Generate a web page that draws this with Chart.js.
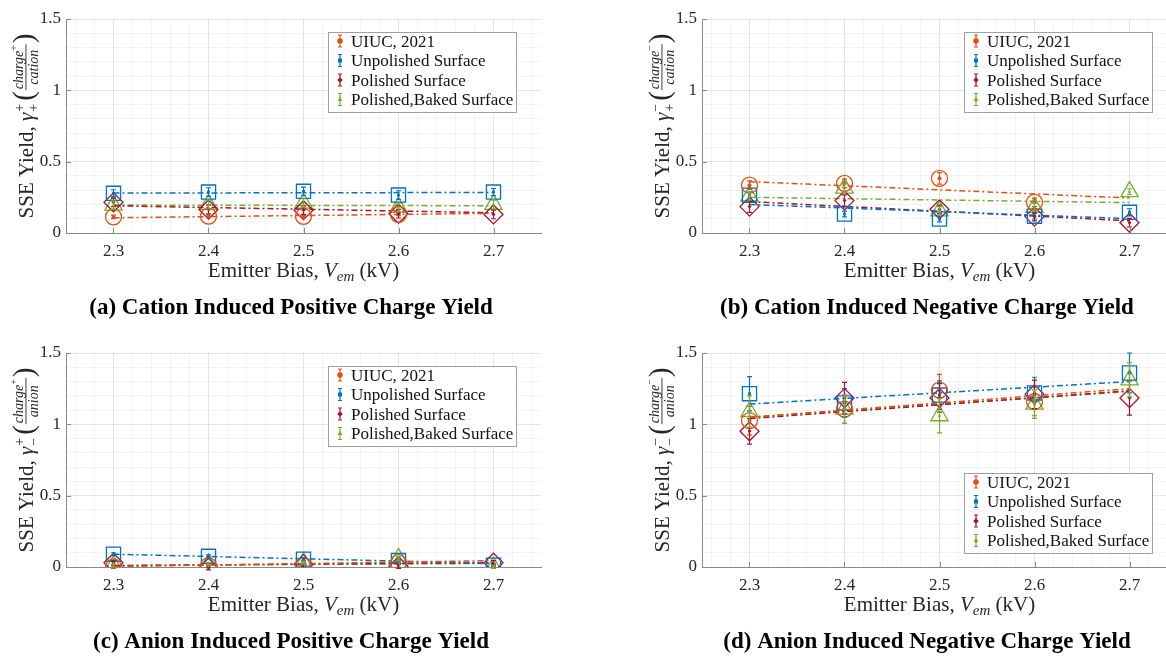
<!DOCTYPE html>
<html>
<head>
<meta charset="utf-8">
<title>SSE Yield vs Emitter Bias</title>
<script src="https://cdn.jsdelivr.net/npm/chart.js"></script>
<style>
  body { margin: 0; width: 1166px; height: 658px; overflow: hidden; background: #fff; position: relative; }
  canvas { position: absolute; }
</style>
</head>
<body>
<canvas id="panelA" width="583" height="330" style="left:0;top:0"></canvas>
<canvas id="panelB" width="583" height="330" style="left:636px;top:0"></canvas>
<canvas id="panelC" width="583" height="330" style="left:0;top:334px"></canvas>
<canvas id="panelD" width="583" height="330" style="left:636px;top:334px"></canvas>
<script>
// ---- data (UIUC has no 2.7 kV point) ----
const biasKV = [2.3, 2.4, 2.5, 2.6, 2.7];
const xTickLabels = [2.3, 2.4, 2.5, 2.6, 2.7];
const yTickLabels = [0, 0.5, 1, 1.5];
const seriesNames = ['UIUC, 2021', 'Unpolished Surface', 'Polished Surface', 'Polished,Baked Surface'];

// (a) cation induced positive charge yield
const catPosYield = [
  [0.113, 0.118, 0.117, 0.131, null],
  [0.278, 0.287, 0.292, 0.266, 0.287],
  [0.215, 0.165, 0.160, 0.135, 0.130],
  [0.195, 0.200, 0.210, 0.180, 0.200]
];
const catPosErr = [
  [0.012, 0.010, 0.012, 0.010, 0],
  [0.025, 0.030, 0.030, 0.030, 0.025],
  [0.030, 0.030, 0.030, 0.030, 0.030],
  [0.030, 0.030, 0.030, 0.030, 0.030]
];
const catPosFit = [[0.107, 0.138], [0.280, 0.284], [0.191, 0.142], [0.196, 0.191]];

// (b) cation induced negative charge yield
const catNegYield = [
  [0.335, 0.348, 0.383, 0.215, null],
  [0.265, 0.133, 0.098, 0.118, 0.145],
  [0.185, 0.227, 0.166, 0.115, 0.072],
  [0.260, 0.315, 0.155, 0.180, 0.290]
];
const catNegErr = [
  [0.030, 0.030, 0.040, 0.030, 0],
  [0.025, 0.020, 0.020, 0.020, 0.025],
  [0.040, 0.040, 0.030, 0.030, 0.030],
  [0.030, 0.030, 0.030, 0.030, 0.020]
];
const catNegFit = [[0.360, 0.245], [0.200, 0.100], [0.220, 0.085], [0.250, 0.213]];

// (c) anion induced positive charge yield
const anPosYield = [
  [0.000, 0.010, 0.010, 0.030, null],
  [0.090, 0.075, 0.055, 0.045, 0.012],
  [0.030, -0.005, 0.020, 0.005, 0.030],
  [0.010, 0.020, 0.030, 0.060, 0.000]
];
const anPosErr = [
  [0.010, 0.010, 0.010, 0.010, 0],
  [0.010, 0.010, 0.010, 0.010, 0.010],
  [0.015, 0.015, 0.015, 0.015, 0.015],
  [0.010, 0.010, 0.010, 0.015, 0.010]
];
const anPosFit = [[0.003, 0.045], [0.090, 0.025], [0.010, 0.030], [0.010, 0.025]];

// (d) anion induced negative charge yield
const anNegYield = [
  [1.026, 1.107, 1.240, 1.160, null],
  [1.215, 1.150, 1.205, 1.220, 1.360],
  [0.951, 1.184, 1.185, 1.210, 1.184],
  [1.090, 1.107, 1.060, 1.142, 1.312]
];
const anNegErr = [
  [0.10, 0.10, 0.11, 0.10, 0],
  [0.12, 0.10, 0.10, 0.11, 0.14],
  [0.09, 0.11, 0.10, 0.10, 0.12],
  [0.11, 0.10, 0.12, 0.10, 0.12]
];
const anNegFit = [[1.050, 1.250], [1.142, 1.300], [1.040, 1.235], [1.050, 1.230]];

// ---- styling ----
const FONT = '"Liberation Serif", "Times New Roman", serif';
const seriesColors = ['#D95319', '#0072BD', '#A2142F', '#77AC30'];
const seriesMarkers = ['circle', 'rect', 'rectRot', 'triangle'];
const markerRadius = { circle: 8, rect: 10, rectRot: 9.5, triangle: 10 };
const AXIS = '#8a8a8a';
const TXT = '#262626';

const isMajorX = v => Math.abs(v * 10 - Math.round(v * 10)) < 1e-6;
const isMajorY = v => Math.abs(v * 2 - Math.round(v * 2)) < 1e-6;
const xGrid = [];
for (let k = 113; k <= 137; k++) xGrid.push(+(k * 0.02).toFixed(2));
const yGrid = [];
for (let k = 0; k <= 15; k++) yGrid.push(k / 10);

function drawMarker(ctx, style, x, y, r) {
  ctx.beginPath();
  if (style === 'circle') {
    ctx.arc(x, y, r, 0, Math.PI * 2);
  } else if (style === 'rect') {
    const h = r * Math.SQRT1_2;
    ctx.rect(x - h, y - h, 2 * h, 2 * h);
  } else if (style === 'rectRot') {
    ctx.moveTo(x, y - r); ctx.lineTo(x + r, y); ctx.lineTo(x, y + r); ctx.lineTo(x - r, y);
    ctx.closePath();
  } else {
    ctx.moveTo(x, y - r);
    ctx.lineTo(x + r * Math.sin(Math.PI * 2 / 3), y - r * Math.cos(Math.PI * 2 / 3));
    ctx.lineTo(x + r * Math.sin(Math.PI * 4 / 3), y - r * Math.cos(Math.PI * 4 / 3));
    ctx.closePath();
  }
  ctx.fill();
}

// error bars with a small center marker, in data units
const errorBars = {
  id: 'errorBars',
  afterDatasetsDraw(chart) {
    const ctx = chart.ctx, ys = chart.scales.y;
    chart.data.datasets.forEach((ds, i) => {
      if (!ds.errors) return;
      const meta = chart.getDatasetMeta(i);
      ctx.save();
      ctx.strokeStyle = ds.borderColor;
      ctx.fillStyle = ds.borderColor;
      ctx.lineWidth = 1.2;
      meta.data.forEach((pt, j) => {
        const v = ds.data[j].y, e = ds.errors[j];
        if (v === null || pt.skip) return;
        const top = ys.getPixelForValue(v + e), bot = ys.getPixelForValue(v - e);
        ctx.beginPath();
        ctx.moveTo(pt.x, top); ctx.lineTo(pt.x, bot);
        ctx.moveTo(pt.x - 2.5, top); ctx.lineTo(pt.x + 2.5, top);
        ctx.moveTo(pt.x - 2.5, bot); ctx.lineTo(pt.x + 2.5, bot);
        ctx.stroke();
        drawMarker(ctx, ds.pointStyle, pt.x, pt.y, 2);
      });
      ctx.restore();
    });
  }
};

function putText(ctx, font, s, x, y) {
  ctx.font = font;
  ctx.fillText(s, x, y);
  return ctx.measureText(s).width;
}

function drawXTitle(ctx, cx, base) {
  const R = `21px ${FONT}`, I = `italic 21px ${FONT}`, S = `italic 15px ${FONT}`;
  const parts = [[R, 'Emitter Bias, ', 0], [I, 'V', 0], [S, 'em', 4], [R, ' (kV)', 0]];
  let total = 0;
  parts.forEach(p => { ctx.font = p[0]; total += ctx.measureText(p[1]).width; });
  let x = cx - total / 2;
  parts.forEach(p => { x += putText(ctx, p[0], p[1], x, base + p[2]); });
}

function drawYTitle(ctx, cx, cy, t) {
  const R = `21px ${FONT}`, I = `italic 21px ${FONT}`, S = `14px ${FONT}`;
  const SI = `italic 14px ${FONT}`, T = `10px ${FONT}`, P = `29px ${FONT}`;
  ctx.save();
  ctx.translate(cx, cy);
  ctx.rotate(-Math.PI / 2);
  const w = (f, s) => { ctx.font = f; return ctx.measureText(s).width; };
  const wLead = w(R, 'SSE Yield, '), wG = w(I, 'γ');
  const wSc = Math.max(w(S, t.sup), w(S, t.sub));
  const wP = w(P, '(');
  const wChg = w(SI, 'charge');
  const wNum = wChg + w(T, t.numSup);
  const wDen = w(SI, t.den);
  const wFr = Math.max(wNum, wDen) + 4;
  const total = wLead + wG + 1 + wSc + 3 + wP + wFr + wP;
  let x = -total / 2;
  x += putText(ctx, R, 'SSE Yield, ', x, 0);
  x += putText(ctx, I, 'γ', x, 0) + 1;
  putText(ctx, S, t.sup, x, -9);
  putText(ctx, S, t.sub, x, 5);
  x += wSc + 3;
  x += putText(ctx, P, '(', x, 0);
  const fc = x + wFr / 2;
  const ns = fc - wNum / 2;
  putText(ctx, SI, 'charge', ns, -10);
  putText(ctx, T, t.numSup, ns + wChg, -16);
  ctx.fillRect(x + 1, -7.5, wFr - 2, 0.9);
  putText(ctx, SI, t.den, fc - wDen / 2, 5);
  x += wFr;
  putText(ctx, P, ')', x, 0);
  ctx.restore();
}

function drawLegend(ctx, a, where) {
  const w = 188, h = 80;
  const left = a.right - 25 - w;
  const top = where === 'bottom' ? a.bottom - 14 - h : a.top + 13;
  ctx.fillStyle = '#fff';
  ctx.fillRect(left, top, w, h);
  ctx.strokeStyle = '#a0a0a0';
  ctx.lineWidth = 1;
  ctx.strokeRect(Math.round(left) + 0.5, Math.round(top) + 0.5, w, h);
  seriesNames.forEach((name, i) => {
    const base = top + 14.5 + i * 19.5;
    const ix = left + 12, iy = base - 5.5;
    ctx.strokeStyle = seriesColors[i];
    ctx.fillStyle = seriesColors[i];
    ctx.lineWidth = 1.2;
    ctx.beginPath();
    ctx.moveTo(ix, iy - 6); ctx.lineTo(ix, iy + 6);
    ctx.moveTo(ix - 2, iy - 6); ctx.lineTo(ix + 2, iy - 6);
    ctx.moveTo(ix - 2, iy + 6); ctx.lineTo(ix + 2, iy + 6);
    ctx.stroke();
    drawMarker(ctx, seriesMarkers[i], ix, iy, 2.8);
    ctx.fillStyle = '#111';
    putText(ctx, `17px ${FONT}`, name, left + 23, base);
  });
}

const panelDecor = {
  id: 'panelDecor',
  afterDraw(chart, args, opts) {
    const ctx = chart.ctx, a = chart.chartArea;
    const xs = chart.scales.x, ys = chart.scales.y;
    ctx.save();
    // inward tick marks
    ctx.strokeStyle = AXIS;
    ctx.lineWidth = 1;
    ctx.beginPath();
    xTickLabels.forEach(v => {
      const px = Math.round(xs.getPixelForValue(v)) + 0.5;
      ctx.moveTo(px, a.bottom); ctx.lineTo(px, a.bottom - 5);
    });
    yTickLabels.forEach(v => {
      const py = Math.round(ys.getPixelForValue(v)) + 0.5;
      ctx.moveTo(a.left, py); ctx.lineTo(a.left + 5, py);
    });
    ctx.stroke();

    ctx.fillStyle = TXT;
    ctx.textBaseline = 'alphabetic';
    ctx.textAlign = 'left';
    drawXTitle(ctx, (a.left + a.right) / 2, a.bottom + 44);
    drawYTitle(ctx, 33, (a.top + a.bottom) / 2, opts);

    ctx.fillStyle = '#000';
    ctx.textAlign = 'center';
    ctx.font = `bold 23px ${FONT}`;
    ctx.fillText(opts.caption, 291, a.bottom + 81);
    ctx.textAlign = 'left';

    drawLegend(ctx, a, opts.legendAt);
    ctx.restore();
  }
};

function makePanel(id, yields, errs, fits, decor) {
  const datasets = [];
  seriesNames.forEach((name, i) => {
    datasets.push({
      label: name,
      data: biasKV.map((x, j) => ({ x, y: yields[i][j] })),
      errors: errs[i],
      showLine: false,
      pointStyle: seriesMarkers[i],
      pointRadius: markerRadius[seriesMarkers[i]],
      pointBorderWidth: 1.3,
      pointBorderColor: seriesColors[i],
      pointBackgroundColor: 'rgba(0,0,0,0)',
      borderColor: seriesColors[i]
    });
    datasets.push({
      label: name + ' fit',
      data: [{ x: biasKV[0], y: fits[i][0] }, { x: biasKV[biasKV.length - 1], y: fits[i][1] }],
      showLine: true,
      pointRadius: 0,
      borderColor: seriesColors[i],
      borderWidth: 1.5,
      borderDash: [6, 3, 2, 3]
    });
  });

  new Chart(document.getElementById(id), {
    type: 'scatter',
    data: { datasets },
    plugins: [errorBars, panelDecor],
    options: {
      responsive: false,
      animation: false,
      devicePixelRatio: 1,
      events: [],
      layout: { padding: { left: 0, top: 19, right: 42, bottom: 0 } },
      plugins: {
        legend: { display: false },
        tooltip: { enabled: false },
        panelDecor: decor
      },
      scales: {
        x: {
          type: 'linear',
          min: 2.25,
          max: 2.75,
          afterBuildTicks: s => { s.ticks = xGrid.map(v => ({ value: v })); },
          afterFit: s => { s.height = 97; },
          grid: {
            drawTicks: false,
            lineWidth: 1,
            color: c => (c.tick && isMajorX(c.tick.value)) ? 'rgba(0,0,0,0.10)' : 'rgba(0,0,0,0.045)'
          },
          border: { display: true, color: AXIS, width: 1 },
          ticks: {
            autoSkip: false,
            maxRotation: 0,
            padding: 8,
            color: TXT,
            font: { family: FONT, size: 17 },
            callback: v => isMajorX(v) ? v.toFixed(1) : ''
          }
        },
        y: {
          type: 'linear',
          min: 0,
          max: 1.5,
          afterBuildTicks: s => { s.ticks = yGrid.map(v => ({ value: v })); },
          afterFit: s => { s.width = 66; },
          grid: {
            drawTicks: false,
            lineWidth: 1,
            color: c => (c.tick && isMajorY(c.tick.value)) ? 'rgba(0,0,0,0.10)' : 'rgba(0,0,0,0.045)'
          },
          border: { display: true, color: AXIS, width: 1 },
          ticks: {
            autoSkip: false,
            padding: 5,
            color: TXT,
            font: { family: FONT, size: 17 },
            callback: v => isMajorY(v) ? String(v) : ''
          }
        }
      }
    }
  });
}

makePanel('panelA', catPosYield, catPosErr, catPosFit,
  { sup: '+', sub: '+', numSup: '+', den: 'cation', legendAt: 'top', caption: '(a) Cation Induced Positive Charge Yield' });
makePanel('panelB', catNegYield, catNegErr, catNegFit,
  { sup: '−', sub: '+', numSup: '−', den: 'cation', legendAt: 'top', caption: '(b) Cation Induced Negative Charge Yield' });
makePanel('panelC', anPosYield, anPosErr, anPosFit,
  { sup: '+', sub: '−', numSup: '+', den: 'anion', legendAt: 'top', caption: '(c) Anion Induced Positive Charge Yield' });
makePanel('panelD', anNegYield, anNegErr, anNegFit,
  { sup: '−', sub: '−', numSup: '−', den: 'anion', legendAt: 'bottom', caption: '(d) Anion Induced Negative Charge Yield' });
</script>
</body>
</html>
